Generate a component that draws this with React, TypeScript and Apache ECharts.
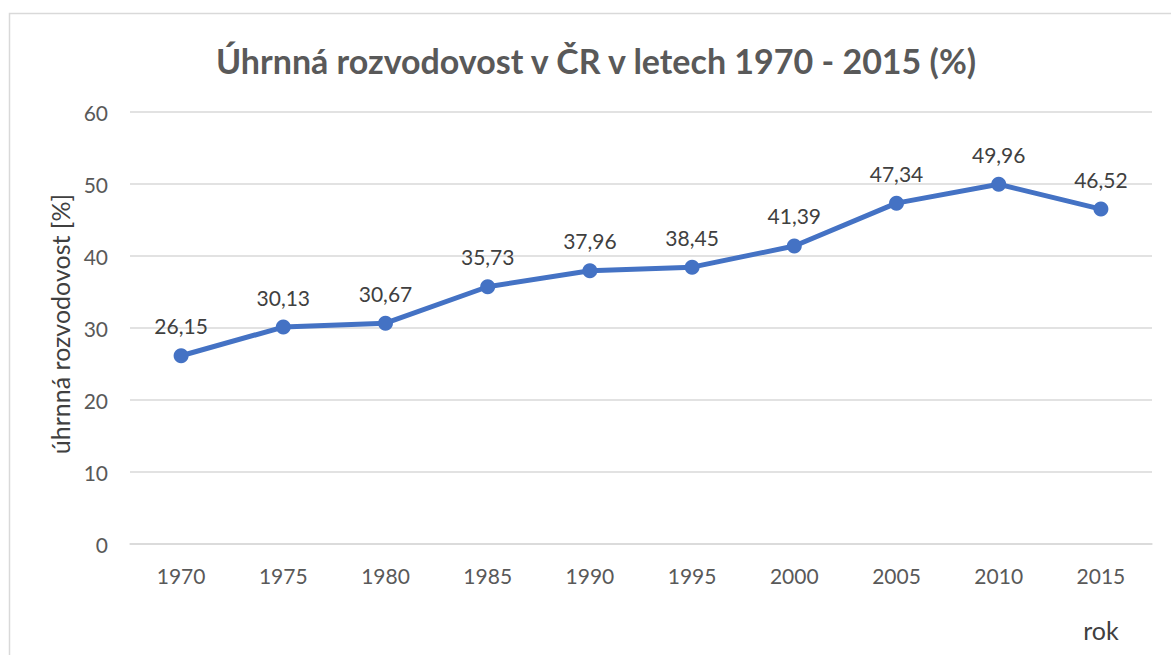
import React, { useEffect, useRef } from "react";
import * as echarts from "echarts";

const years = ["1970", "1975", "1980", "1985", "1990", "1995", "2000", "2005", "2010", "2015"];
const values = [26.15, 30.13, 30.67, 35.73, 37.96, 38.45, 41.39, 47.34, 49.96, 46.52];
const titleText = "Úhrnná rozvodovost v ČR v letech 1970 - 2015 (%)";
const yName = "úhrnná rozvodovost [%]";
const xName = "rok";

const FONT = "Lato, 'Open Sans', sans-serif";

export default function App() {
  const ref = useRef<HTMLDivElement>(null);
  useEffect(() => {
    if (!ref.current) return;
    const chart = echarts.init(ref.current, undefined, { renderer: "svg" });
    chart.setOption({
      animation: false,
      backgroundColor: "#ffffff",
      textStyle: { fontFamily: FONT },
      grid: { left: 130, right: 19, top: 112, bottom: 111 },
      graphic: [
        {
          type: "polyline",
          shape: { points: [[9.5, 655], [9.5, 13.5], [1171, 13.5]] },
          style: { stroke: "#d9d9d9", lineWidth: 1.5, fill: null },
          silent: true,
        },
        {
          type: "text",
          x: 596,
          y: 60,
          style: {
            text: titleText,
            fontSize: 34,
            fontWeight: "bold",
            fontFamily: FONT,
            fill: "#595959",
            align: "center",
            verticalAlign: "middle",
          },
        },
        {
          type: "text",
          x: 1101,
          y: 630,
          style: {
            text: xName,
            fontSize: 25,
            fontFamily: FONT,
            fill: "#404040",
            align: "center",
            verticalAlign: "middle",
          },
        },
      ],
      xAxis: {
        type: "category",
        data: years,
        boundaryGap: true,
        axisLine: { show: true, lineStyle: { color: "#d9d9d9", width: 1.5 } },
        axisTick: { show: false },
        axisLabel: { color: "#595959", fontSize: 21, margin: 21, fontFamily: FONT },
        splitLine: { show: false },
      },
      yAxis: {
        type: "value",
        min: 0,
        max: 60,
        interval: 10,
        name: yName,
        nameLocation: "middle",
        nameGap: 58,
        nameRotate: 90,
        nameTextStyle: { color: "#404040", fontSize: 25, fontFamily: FONT, padding: [0, 0, 0, 8] },
        axisLine: { show: false },
        axisTick: { show: false },
        axisLabel: { color: "#595959", fontSize: 21, margin: 22, fontFamily: FONT },
        splitLine: { show: true, lineStyle: { color: "#d9d9d9", width: 1.5 } },
      },
      series: [
        {
          type: "line",
          data: values,
          symbol: "circle",
          symbolSize: 15,
          itemStyle: { color: "#4472C4" },
          lineStyle: { color: "#4472C4", width: 5 },
          label: {
            show: true,
            position: "top",
            distance: 12,
            color: "#404040",
            fontSize: 21,
            fontFamily: FONT,
            formatter: (p: any) => p.value.toFixed(2).replace(".", ","),
          },
        },
      ],
    });
    return () => chart.dispose();
  }, []);
  return (
    <div
      ref={ref}
      style={{ position: "absolute", left: 0, top: 0, width: 1171, height: 655 }}
    />
  );
}
